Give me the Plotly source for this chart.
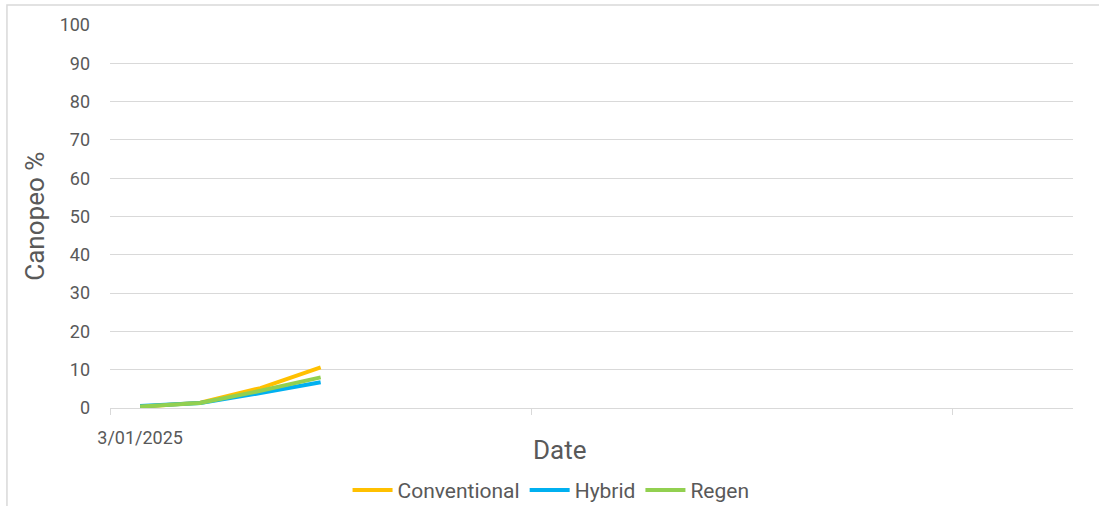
import plotly.graph_objects as go

# Data
categories = ["3/01/2025", "", "", "", "", "", "", "", "", "", "", "", "", "", "", ""]
conventional = [0.3, 1.4, 5.2, 10.6]
hybrid = [0.5, 1.3, 3.9, 6.7]
regen = [0.4, 1.3, 4.5, 8.0]
series_names = ["Conventional", "Hybrid", "Regen"]
series_colors = ["#FFC000", "#00B0F0", "#92D050"]
y_ticks = [0, 10, 20, 30, 40, 50, 60, 70, 80, 90, 100]

FONT = "Roboto, sans-serif"
TXT = "#595959"
GRID = "#d9d9d9"

x_idx = list(range(len(categories)))

fig = go.Figure()
for name, vals, col in zip(series_names, [conventional, hybrid, regen], series_colors):
    fig.add_trace(go.Scatter(
        x=x_idx[:len(vals)], y=vals, name=name, mode="lines",
        line=dict(color=col, width=4), xaxis="x", yaxis="y",
    ))

# invisible trace for label axis
fig.add_trace(go.Scatter(x=[0], y=[0], xaxis="x2", yaxis="y", showlegend=False,
                         mode="markers", marker=dict(opacity=0), hoverinfo="skip"))

n = len(categories)
fig.update_layout(
    width=1099, height=506,
    margin=dict(l=110, r=26, t=25, b=98, autoexpand=False),
    paper_bgcolor="white", plot_bgcolor="white",
    font=dict(family=FONT, color=TXT, size=18),
    xaxis=dict(
        range=[-0.5, n - 0.5],
        tickvals=[-0.5, 6.5, 13.5], ticktext=["", "", ""],
        ticks="outside", ticklen=6, tickcolor=GRID, tickwidth=1,
        showgrid=False, showline=True, linecolor=GRID, linewidth=1,
        zeroline=False,
    ),
    xaxis2=dict(
        overlaying="x", matches="x", side="bottom",
        tickvals=[i for i, c in enumerate(categories) if c],
        ticktext=[c for c in categories if c],
        ticks="", showgrid=False, showline=False, zeroline=False,
        tickfont=dict(size=18, color=TXT, family=FONT),
        ticklabelstandoff=17,
    ),
    yaxis=dict(
        range=[0, 100], tickvals=y_ticks,
        showgrid=True, gridcolor=GRID, gridwidth=1,
        zeroline=False, showline=False, ticks="",
        tickfont=dict(size=18, color=TXT, family=FONT),
        ticklabelstandoff=19,
    ),
    legend=dict(
        orientation="h", x=0.458, xanchor="center", y=-0.215, yanchor="middle",
        font=dict(size=21, color=TXT, family=FONT),
        itemwidth=40, tracegroupgap=0, bgcolor="rgba(0,0,0,0)",
    ),
    showlegend=True,
    annotations=[
        dict(text="Canopeo %", xref="paper", yref="paper", x=-0.0787, y=0.5,
             xanchor="center", yanchor="middle", textangle=-90, showarrow=False,
             font=dict(size=26, color=TXT, family=FONT)),
        dict(text="Date", xref="paper", yref="paper", x=0.467, y=-0.11,
             xanchor="center", yanchor="middle", showarrow=False,
             font=dict(size=26, color=TXT, family=FONT)),
    ],
    shapes=[
        dict(type="rect", xref="paper", yref="paper",
             x0=-0.107, x1=1.035, y0=-0.27, y1=1.052,
             line=dict(color=GRID, width=1.5), fillcolor="rgba(0,0,0,0)", layer="below"),
    ],
)

fig.write_html("out.html")
